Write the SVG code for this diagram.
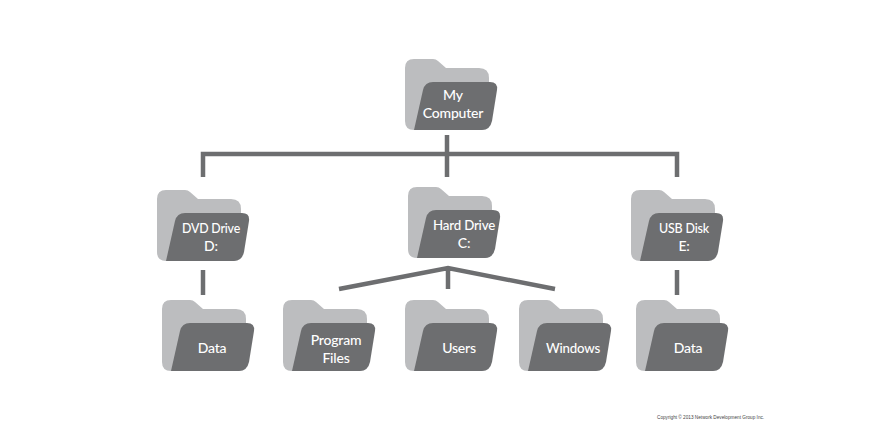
<svg xmlns="http://www.w3.org/2000/svg" xmlns:xlink="http://www.w3.org/1999/xlink" width="886" height="430" viewBox="0 0 886 430">
<style>
.back{fill:#bcbdbf}
.front{fill:#6d6e70}
.t{font-family:"Lato","Noto Sans",sans-serif;font-size:14px;font-weight:500;letter-spacing:-.2px;fill:#fff;text-anchor:middle}
.c{fill:none;stroke:#6d6e70;stroke-width:4.5}
.copy{font-family:"Liberation Sans",Arial,sans-serif;font-size:4.7px;fill:#444}
</style>
<defs>
<g id="folder">
<path class="back" d="M9 0H28Q31 0 33 2L41 9H74Q84 9 84 19V62Q84 71 75 71H9Q0 71 0 62V9Q0 0 9 0Z"/>
<path class="front" d="M9 71 L18 31 Q20 23 28 23 H85 Q93 23 92 31 L87 62 Q85 71 77 71Z"/>
</g>
</defs>
<rect width="886" height="430" fill="#fff"/>
<g id="connectors" class="c">
<path d="M203 177V154H677V177M447 135V177"/>
<path d="M203 270V295"/>
<path d="M677 270V295"/>
<path d="M339 289L448 268L555 289M448 268V289"/>
</g>
<g id="my-computer"><use xlink:href="#folder" href="#folder" x="405" y="59"/><text class="t" x="453" y="100">My</text><text class="t" x="453" y="118">Computer</text></g>
<g id="dvd-drive"><use xlink:href="#folder" href="#folder" x="157" y="190"/><text class="t" x="211" y="233" textLength="58" lengthAdjust="spacingAndGlyphs">DVD Drive</text><text class="t" x="211" y="251">D:</text></g>
<g id="hard-drive"><use xlink:href="#folder" href="#folder" x="408" y="187"/><text class="t" x="464" y="230" textLength="62" lengthAdjust="spacingAndGlyphs">Hard Drive</text><text class="t" x="464" y="248">C:</text></g>
<g id="usb-disk"><use xlink:href="#folder" href="#folder" x="631" y="190"/><text class="t" x="684" y="233" textLength="50" lengthAdjust="spacingAndGlyphs">USB Disk</text><text class="t" x="684" y="251">E:</text></g>
<g id="data-d"><use xlink:href="#folder" href="#folder" x="162" y="300"/><text class="t" x="212" y="353">Data</text></g>
<g id="program-files"><use xlink:href="#folder" href="#folder" x="283" y="300"/><text class="t" x="336" y="345">Program</text><text class="t" x="336" y="363">Files</text></g>
<g id="users"><use xlink:href="#folder" href="#folder" x="405" y="300"/><text class="t" x="459" y="353">Users</text></g>
<g id="windows"><use xlink:href="#folder" href="#folder" x="519" y="300"/><text class="t" x="573" y="353" textLength="54" lengthAdjust="spacingAndGlyphs">Windows</text></g>
<g id="data-e"><use xlink:href="#folder" href="#folder" x="636" y="300"/><text class="t" x="688" y="353">Data</text></g>
<text class="copy" x="657" y="419">Copyright © 2013 Network Development Group Inc.</text>
</svg>
